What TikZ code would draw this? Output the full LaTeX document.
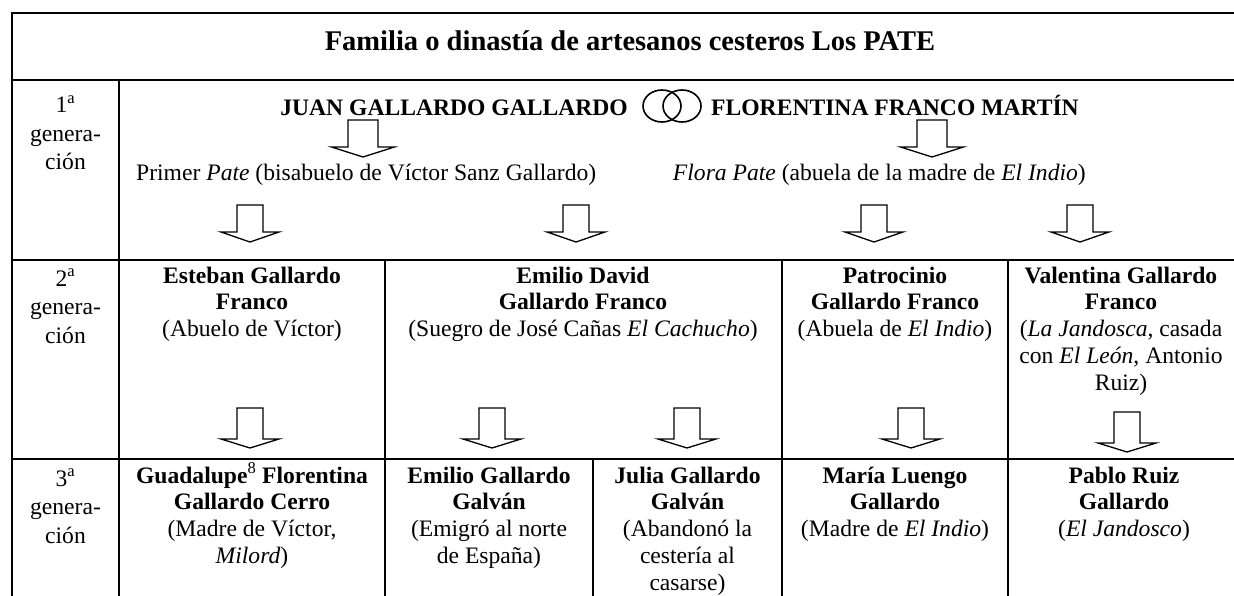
\documentclass[tikz,border=0pt]{standalone}
\usepackage{fontspec}
\setmainfont{Liberation Serif}
\newcommand\cellv[1]{\vtop{\halign{\hfil##\hfil\cr#1\crcr}}}
\tikzset{
  tline/.style={line width=2.3pt, line cap=rect},
  txt/.style={font=\fontsize{23.6}{26.8}\selectfont, inner sep=0pt, anchor=base},
  lbl/.style={font=\fontsize{23.6}{28.5}\selectfont, inner sep=0pt, anchor=base},
  ttl/.style={font=\fontsize{28.5}{32}\selectfont\bfseries, inner sep=0pt, anchor=base},
  pics/darrow/.style n args={4}{code={
    \draw[line width=1.3pt, line join=miter]
      ({-#1/2},0) -- ({-#1/2},#3) -- ({-#2/2},#3) -- (0,{#3+#4})
      -- ({#2/2},#3) -- ({#1/2},#3) -- ({#1/2},0) -- cycle;
  }},
}
\begin{document}
\begin{tikzpicture}[x=1pt,y=-1pt]
\useasboundingbox (0,0) rectangle (1234,596);
\clip (0,0) rectangle (1234,596);
% table rules
\draw[tline] (12,13) -- (1240,13);
\draw[tline] (12,80) -- (1240,80);
\draw[tline] (12,260) -- (1240,260);
\draw[tline] (12,459) -- (1240,459);
\draw[tline] (12,13) -- (12,600);
\draw[tline] (119,80) -- (119,600);
\draw[tline] (385,260) -- (385,600);
\draw[tline] (782,260) -- (782,600);
\draw[tline] (1008,260) -- (1008,600);
\draw[tline] (593,459) -- (593,600);
% title
\node[ttl] (title) at (630,51) {Familia o dinastía de artesanos cesteros Los PATE};
% labels
\node[lbl] (g1) at (65.5,113) {\cellv{1\textsuperscript{a}\cr genera-\cr ción}};
\node[lbl] (g2) at (65.5,286) {\cellv{2\textsuperscript{a}\cr genera-\cr ción}};
\node[lbl] (g3) at (65.5,486) {\cellv{3\textsuperscript{a}\cr genera-\cr ción}};
% generation 1
\node[txt, anchor=base east] (juan) at (628,116) {\textbf{JUAN GALLARDO GALLARDO}};
\draw[line width=1.6pt] (662,106) ellipse [x radius=19pt, y radius=16pt];
\draw[line width=1.6pt] (682,106) ellipse [x radius=19pt, y radius=16pt];
\node[txt, anchor=base west] (flor) at (711,116) {\textbf{FLORENTINA FRANCO MARTÍN}};
\pic at (363,120) {darrow={30}{63}{27}{10}};
\pic at (932,120) {darrow={30}{63}{27}{10}};
\node[txt, anchor=base west] (primer) at (136,181) {Primer \textit{Pate} (bisabuelo de Víctor Sanz Gallardo)};
\node[txt, anchor=base east] (flora) at (1086,181) {\textit{Flora Pate} (abuela de la madre de \textit{El Indio})};
\pic at (250,205) {darrow={26}{58}{27}{10}};
\pic at (576,205) {darrow={26}{58}{27}{10}};
\pic at (874,205) {darrow={26}{58}{27}{10}};
\pic at (1080,205) {darrow={26}{58}{27}{10}};
% generation 2
\node[txt] (esteban) at (252,283) {\cellv{\textbf{Esteban Gallardo}\cr \textbf{Franco}\cr (Abuelo de Víctor)}};
\node[txt] (emilio) at (583,283) {\cellv{\textbf{Emilio David}\cr \textbf{Gallardo Franco}\cr (Suegro de José Cañas \textit{El Cachucho})}};
\node[txt] (patro) at (895,283) {\cellv{\textbf{Patrocinio}\cr \textbf{Gallardo Franco}\cr (Abuela de \textit{El Indio})}};
\node[txt] (valen) at (1121,283) {\cellv{\textbf{Valentina Gallardo}\cr \textbf{Franco}\cr (\textit{La Jandosca}, casada\cr con \textit{El León}, Antonio\cr Ruiz)}};
\pic at (250,408) {darrow={26}{58}{31}{9}};
\pic at (492,408) {darrow={26}{58}{31}{9}};
\pic at (687,408) {darrow={26}{58}{31}{9}};
\pic at (911,408) {darrow={26}{58}{31}{9}};
\pic at (1127,412) {darrow={26}{58}{31}{9}};
% generation 3
\node[txt] (guada) at (252,483) {\cellv{\textbf{Guadalupe}\textsuperscript{8} \textbf{Florentina}\cr \textbf{Gallardo Cerro}\cr (Madre de Víctor,\cr \textit{Milord})}};
\node[txt] (emiliog) at (489,483) {\cellv{\textbf{Emilio Gallardo}\cr \textbf{Galván}\cr (Emigró al norte\cr de España)}};
\node[txt] (julia) at (687.5,483) {\cellv{\textbf{Julia Gallardo}\cr \textbf{Galván}\cr (Abandonó la\cr cestería al\cr casarse)}};
\node[txt] (maria) at (895,483) {\cellv{\textbf{María Luengo}\cr \textbf{Gallardo}\cr (Madre de \textit{El Indio})}};
\node[txt] (pablo) at (1124,483) {\cellv{\textbf{Pablo Ruiz}\cr \textbf{Gallardo}\cr (\textit{El Jandosco})}};
\end{tikzpicture}
\end{document}
